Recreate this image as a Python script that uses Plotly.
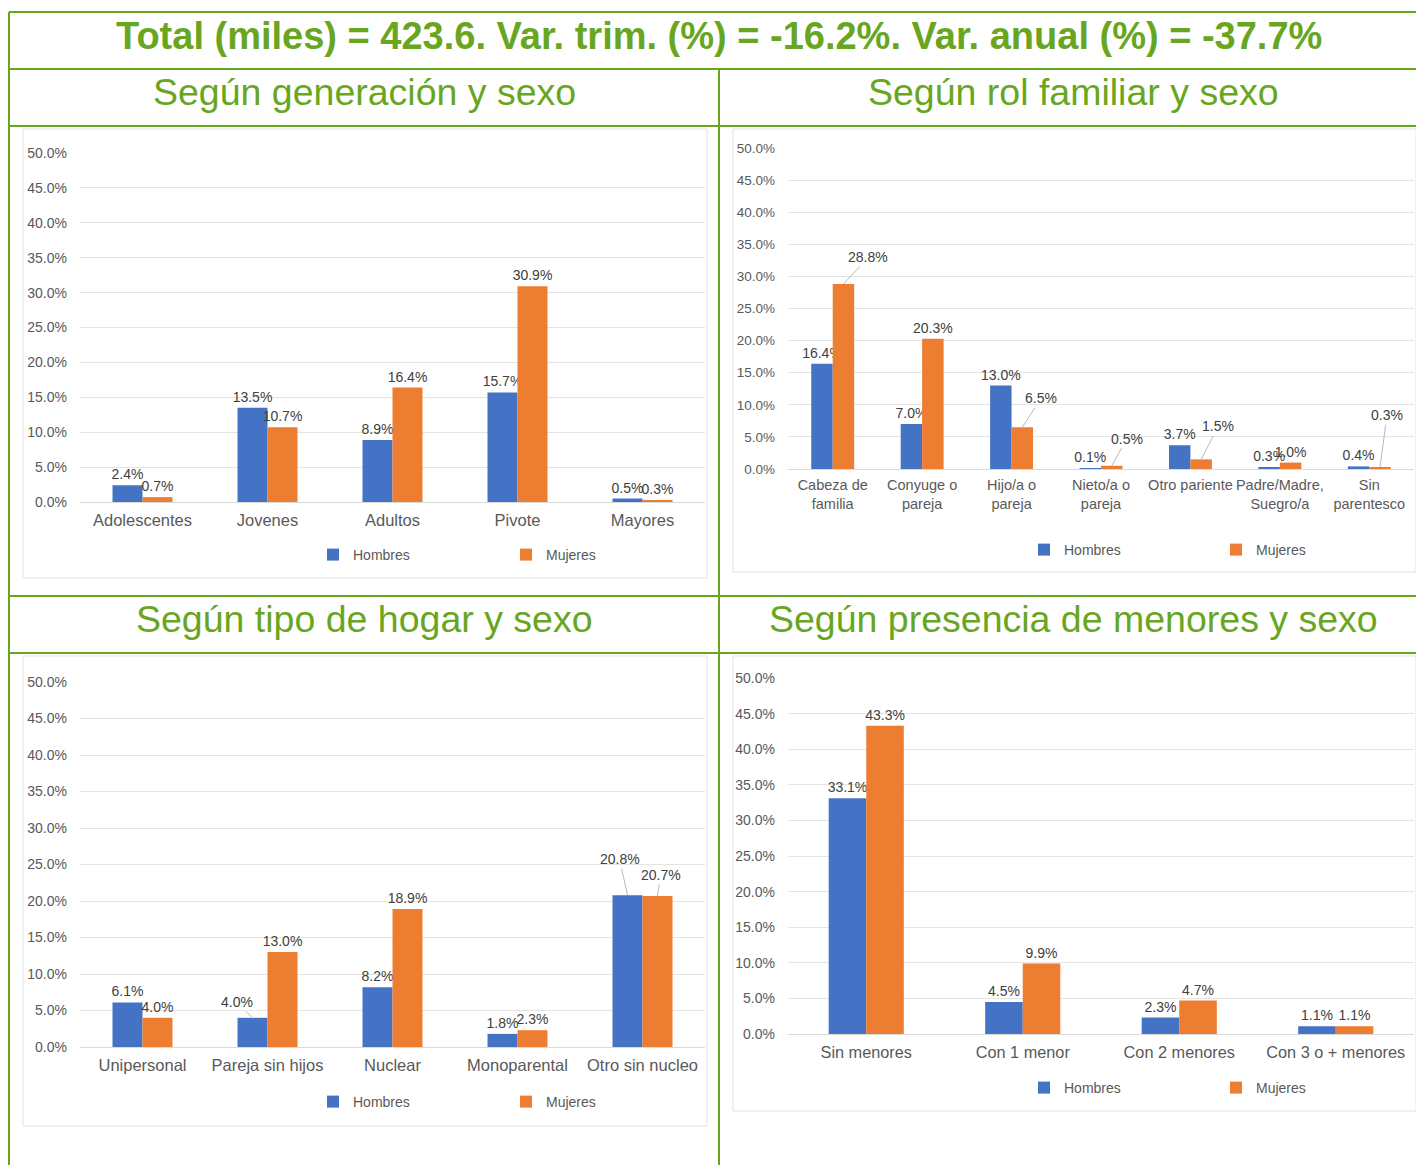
"""
Perfil por sexo: cuatro graficos de barras en una tabla con bordes verdes
"""

import plotly.graph_objects as go

W, H = 1416, 1165

# ---- data ----
titulo = "Total (miles) = 423.6. Var. trim. (%) = -16.2%. Var. anual (%) = -37.7%"

gen_cats = ["Adolescentes", "Jovenes", "Adultos", "Pivote", "Mayores"]
gen_hombres = [2.4, 13.5, 8.9, 15.7, 0.5]
gen_mujeres = [0.7, 10.7, 16.4, 30.9, 0.3]

rol_cats = ["Cabeza de<br>familia", "Conyuge o<br>pareja", "Hijo/a o<br>pareja", "Nieto/a o<br>pareja",
            "Otro pariente", "Padre/Madre,<br>Suegro/a", "Sin<br>parentesco"]
rol_hombres = [16.4, 7.0, 13.0, 0.1, 3.7, 0.3, 0.4]
rol_mujeres = [28.8, 20.3, 6.5, 0.5, 1.5, 1.0, 0.3]

hogar_cats = ["Unipersonal", "Pareja sin hijos", "Nuclear", "Monoparental", "Otro sin nucleo"]
hogar_hombres = [6.1, 4.0, 8.2, 1.8, 20.8]
hogar_mujeres = [4.0, 13.0, 18.9, 2.3, 20.7]

men_cats = ["Sin menores", "Con 1 menor", "Con 2 menores", "Con 3 o + menores"]
men_hombres = [33.1, 4.5, 2.3, 1.1]
men_mujeres = [43.3, 9.9, 4.7, 1.1]

subtitulos = ["Según generación y sexo", "Según rol familiar y sexo",
              "Según tipo de hogar y sexo", "Según presencia de menores y sexo"]

y_ticks = [0, 5, 10, 15, 20, 25, 30, 35, 40, 45, 50]
y_ticktext = ["0.0%", "5.0%", "10.0%", "15.0%", "20.0%", "25.0%",
              "30.0%", "35.0%", "40.0%", "45.0%", "50.0%"]

AZUL = "#4472c4"
NARANJA = "#ed7d31"
VERDE = "#68a61f"
GRIS = "#595959"
FONT = "Liberation Sans, Arial, sans-serif"
BARGAP = 0.52

# labels that Excel moved away from the bar, drawn with a leader line
# (panel, serie, index) -> pixel offset of the label from the bar top
leader = {
    (1, 1, 0): (25, -27),
    (1, 1, 2): (19, -29),
    (1, 1, 3): (15, -27),
    (1, 1, 4): (17, -33),
    (1, 1, 6): (7, -52),
    (2, 0, 1): (-16, -16),
    (2, 0, 4): (-8, -36),
    (2, 1, 4): (3, -21),
}


def px_x(v):
    return v / W


def px_y(v):
    return 1 - v / H


# pixel layout of every chart: plot x range, y of 0% and 50%, legend row and squares
panels = [
    dict(cats=gen_cats, h=gen_hombres, m=gen_mujeres, x0=80, x1=705, y0=502, y1=153,
         leg_y=555, leg_h=333, leg_m=526, cat_size=16.5, tick_size=14),
    dict(cats=rol_cats, h=rol_hombres, m=rol_mujeres, x0=788, x1=1414, y0=469, y1=148,
         leg_y=550, leg_h=1044, leg_m=1236, cat_size=14.5, tick_size=13.5),
    dict(cats=hogar_cats, h=hogar_hombres, m=hogar_mujeres, x0=80, x1=705, y0=1047, y1=682,
         leg_y=1102, leg_h=333, leg_m=526, cat_size=16.5, tick_size=14),
    dict(cats=men_cats, h=men_hombres, m=men_mujeres, x0=788, x1=1414, y0=1034, y1=678,
         leg_y=1088, leg_h=1044, leg_m=1236, cat_size=16.3, tick_size=14),
]

fig = go.Figure()
annotations = []

for i, p in enumerate(panels):
    n = "" if i == 0 else str(i + 1)
    bar_w = (p["x1"] - p["x0"]) / len(p["cats"]) * (1 - BARGAP) / 2
    series = [("Hombres", p["h"], AZUL, p["leg_h"]), ("Mujeres", p["m"], NARANJA, p["leg_m"])]
    for j, (name, vals, color, lx) in enumerate(series):
        leg = "legend" if (i == 0 and j == 0) else "legend" + str(2 * i + j + 1)
        labels = []
        for k, v in enumerate(vals):
            if (i, j, k) in leader:
                labels.append("")
                ax, ay = leader[(i, j, k)]
                annotations.append(dict(
                    x=p["cats"][k], y=v, xref="x" + n, yref="y" + n,
                    xshift=(j - 0.5) * bar_w, text=f"{v:.1f}%",
                    showarrow=True, arrowhead=0, arrowwidth=0.8, arrowcolor="#a6a6a6",
                    ax=ax, ay=ay, font=dict(size=14, color="#404040", family=FONT),
                ))
            else:
                labels.append(f"{v:.1f}%")
        fig.add_trace(go.Bar(
            x=p["cats"], y=vals, name=name,
            marker=dict(color=color, line=dict(width=0)),
            text=labels, texttemplate="%{text}", textposition="outside",
            textfont=dict(size=14, color="#404040", family=FONT),
            constraintext="none", cliponaxis=False,
            xaxis="x" + n, yaxis="y" + n, legend=leg,
        ))
        fig.layout[leg] = dict(
            x=px_x(lx - 20), y=px_y(p["leg_y"]),
            xanchor="left", yanchor="middle", bgcolor="rgba(0,0,0,0)",
            font=dict(size=14, color=GRIS, family=FONT), itemwidth=30,
        )

    fig.layout["xaxis" + n] = dict(
        domain=[px_x(p["x0"]), px_x(p["x1"])], anchor="y" + n,
        showgrid=False, showline=True, linecolor="#d9d9d9", linewidth=1,
        tickfont=dict(size=p["cat_size"], color=GRIS, family=FONT),
        ticklabelstandoff=3, fixedrange=True,
    )
    fig.layout["yaxis" + n] = dict(
        domain=[px_y(p["y0"]), px_y(p["y1"])], anchor="x" + n,
        range=[0, 50], tickvals=y_ticks, ticktext=y_ticktext,
        showgrid=True, gridcolor="#e4e4e4", gridwidth=1, zeroline=False, showline=False,
        tickfont=dict(size=p["tick_size"], color=GRIS, family=FONT),
        ticklabelstandoff=12, fixedrange=True,
    )

fig.update_layout(barmode="group", bargap=BARGAP, bargroupgap=0)

# table lines
shapes = []
line = dict(color=VERDE, width=2)
for yy in [12, 69, 126, 596, 653]:
    shapes.append(dict(type="line", xref="paper", yref="paper",
                       x0=px_x(9), x1=1, y0=px_y(yy), y1=px_y(yy), line=line))
shapes.append(dict(type="line", xref="paper", yref="paper",
                   x0=px_x(9), x1=px_x(9), y0=px_y(12), y1=0, line=line))
shapes.append(dict(type="line", xref="paper", yref="paper",
                   x0=px_x(719), x1=px_x(719), y0=px_y(69), y1=0, line=line))

# light frames of the chart pictures
for bx0, by0, bx1, by1 in [(23, 129, 707, 578), (733, 129, 1416, 572),
                           (23, 656, 707, 1126), (733, 656, 1416, 1111)]:
    shapes.append(dict(type="rect", xref="paper", yref="paper", layer="below",
                       x0=px_x(bx0), x1=px_x(bx1), y0=px_y(by1), y1=px_y(by0),
                       line=dict(color="#e3e3e3", width=1), fillcolor="white"))

annotations.append(dict(text="<b>" + titulo + "</b>", x=px_x(719), y=px_y(36),
                        xref="paper", yref="paper", showarrow=False,
                        xanchor="center", yanchor="middle",
                        font=dict(size=38, color=VERDE, family=FONT)))
for txt, cx, cy in zip(subtitulos, [364, 1073, 364, 1073], [92, 92, 619, 619]):
    annotations.append(dict(text=txt, x=px_x(cx), y=px_y(cy), xref="paper", yref="paper",
                            showarrow=False, xanchor="center", yanchor="middle",
                            font=dict(size=37.5, color=VERDE, family=FONT)))

fig.update_layout(
    width=W, height=H, margin=dict(l=0, r=0, t=0, b=0, autoexpand=False),
    paper_bgcolor="white", plot_bgcolor="white",
    shapes=shapes, annotations=annotations, showlegend=True,
)

fig.write_html("out.html", config={"displayModeBar": False},
               post_script="document.body.style.margin='0px';")
